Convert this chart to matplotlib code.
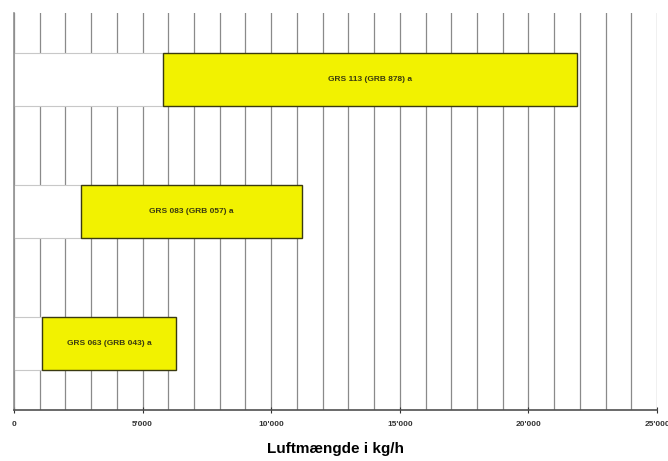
import matplotlib.pyplot as plt
from matplotlib.ticker import MultipleLocator, FuncFormatter

# data (kg/h)
labels = ['GRS 063 (GRB 043) a', 'GRS 083 (GRB 057) a', 'GRS 113 (GRB 878) a']
start = [1100, 2600, 5800]
end = [6300, 11200, 21900]
width = [e - s for s, e in zip(start, end)]
pos = [0, 1, 2]

plt.rcParams['font.family'] = ['Liberation Sans', 'DejaVu Sans']

fig = plt.figure(figsize=(6.68, 4.61), dpi=100)
ax = fig.add_axes([0.021, 0.1106, 0.9625, 0.861])

# white part covers the gridlines, yellow part is the range
ax.barh(pos, start, height=0.4, color='white', edgecolor='#c8c8c8', lw=0.8, zorder=2)
ax.barh(pos, width, left=start, height=0.4, color='#f2f200', edgecolor='#3a3a10', lw=1.0, zorder=3)

for p, s, w, t in zip(pos, start, width, labels):
    ax.text(s + w / 2, p, t, ha='center', va='center', fontsize=6,
            fontweight='bold', color='#3a3a10', zorder=4)

ax.set_xlim(0, 25000)
ax.set_ylim(-0.5, 2.5)
ax.xaxis.set_major_locator(MultipleLocator(5000))
ax.xaxis.set_minor_locator(MultipleLocator(1000))
ax.xaxis.set_major_formatter(FuncFormatter(lambda v, _: f"{int(v):,}".replace(',', "'")))
ax.grid(axis='x', which='both', color='#8a8a8a', lw=0.9, zorder=0)
ax.set_axisbelow(True)
ax.set_yticks([])
ax.tick_params(axis='x', which='major', length=4, width=0.8, direction='inout',
               labelsize=6, pad=6, colors='#333333')
ax.tick_params(axis='x', which='minor', length=0)
for lab in ax.get_xticklabels():
    lab.set_fontweight('bold')

for side in ['top', 'right']:
    ax.spines[side].set_visible(False)
ax.spines['left'].set_color('#909090')
ax.spines['bottom'].set_color('#505050')
ax.spines['left'].set_linewidth(1.2)
ax.spines['bottom'].set_linewidth(1.2)

ax.set_xlabel('Luftmængde i kg/h', fontsize=11, fontweight='bold', labelpad=10)

plt.savefig('out.png', dpi=100)
